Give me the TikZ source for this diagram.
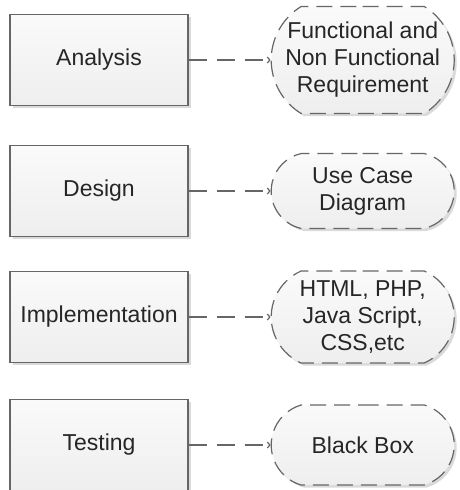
\documentclass[tikz,border=0pt]{standalone}
\usepackage{fontspec}
\setmainfont{Liberation Sans}
\usetikzlibrary{positioning,arrows.meta,shapes.misc,shadows}
\definecolor{linegray}{HTML}{666666}
\definecolor{textdark}{HTML}{262626}
\definecolor{filltop}{HTML}{FAFAFA}
\definecolor{fillbottom}{HTML}{EEEEEE}
\definecolor{shadowgray}{HTML}{DADADA}

\begin{document}
\begin{tikzpicture}[
  phase/.style={draw=linegray, line width=1.2pt, minimum width=178pt, minimum height=91pt, inner sep=0pt,
    top color=filltop, bottom color=fillbottom, text=textdark,
    drop shadow={shadow xshift=2.5pt, shadow yshift=-2.5pt, fill=shadowgray, opacity=1},
    font=\fontsize{23}{27}\selectfont},
  result/.style={rounded rectangle, draw=linegray, line width=1.2pt, dash pattern=on 16pt off 8pt,
    minimum width=183pt, inner sep=0pt, align=center, top color=filltop, bottom color=fillbottom, text=textdark,
    drop shadow={shadow xshift=2.5pt, shadow yshift=-2.5pt, fill=shadowgray, opacity=1},
    font=\fontsize{23}{27}\selectfont},
  link/.style={draw=linegray, line width=1.2pt, dash pattern=on 18pt off 10pt,
    -{Straight Barb[length=2.5pt,width=6pt]}},
]
\useasboundingbox (0,0) rectangle (460pt,-490pt);

% Phases and what they give
\foreach \i/\y/\phasename/\outtext/\h/\arc in {
  1/60/Analysis/{Functional and\\Non Functional\\Requirement}/107/117,
  2/191/Design/{Use Case\\Diagram}/75/155,
  3/317/Implementation/{HTML, PHP,\\Java Script,\\CSS,etc}/92/132,
  4/445/Testing/{Black Box}/80/147} {
  \node[phase] (phase\i) at (99pt,-\y pt) {\phasename};
  \node[result, minimum height=\h pt, rounded rectangle arc length=\arc] (out\i) [right=82pt of phase\i] {\outtext};
  \draw[link] (phase\i) -- (out\i);
}

\end{tikzpicture}
\end{document}
